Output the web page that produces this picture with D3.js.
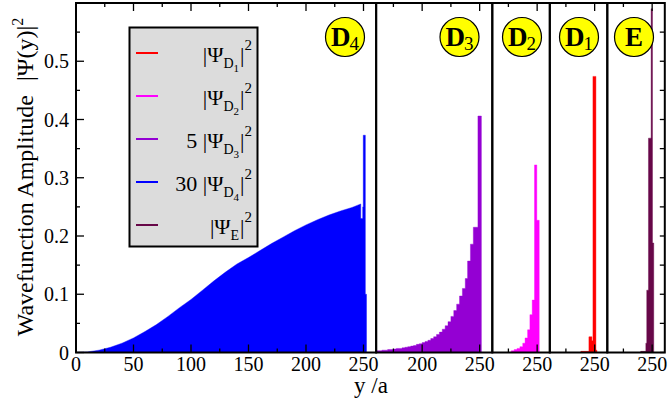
<!DOCTYPE html>
<html><head><meta charset="utf-8">
<script src="https://cdn.jsdelivr.net/npm/d3@7"></script>
<style>body{margin:0;background:#fff}svg{display:block}</style>
</head><body>
<script>
// ---------- data ----------
const panelLo = [0, 160, 211, 211, 211];
const panelHi = [261, 261, 261, 261, 261];
const badgeMain = ["D", "D", "D", "D", "E"];
const badgeSub = ["4", "3", "2", "1", ""];

const yMajor = [0, 0.1, 0.2, 0.3, 0.4, 0.5];
const yMajorLabels = ["0", "0.1", "0.2", "0.3", "0.4", "0.5"];
const yMinor = [0.05, 0.15, 0.25, 0.35, 0.45, 0.55];

// 30|Psi_D4|^2 (panel 1)
const blueX = [0,10,20,30,40,50,60,70,80,90,100,110,120,130,140,150,160,170,180,190,200,210,220,230,240,245,247.6,247.6,249.3,249.3,249.8,249.8,251.6,251.6,252.6,252.6];
const blueY = [0,0.001,0.004,0.009,0.016,0.025,0.036,0.048,0.062,0.077,0.091,0.107,0.123,0.138,0.152,0.163,0.175,0.187,0.198,0.209,0.219,0.228,0.236,0.243,0.249,0.253,0.255,0.23,0.23,0.25,0.25,0.373,0.373,0.10,0.10,0];
// 5|Psi_D3|^2 (panel 2), step starts
const violetX = [160,162.5,165,167.5,170,172.5,175,177.5,180,182.5,185,187.5,190,192.5,195,197.5,200,202.5,205,207.5,210,212.5,215,217.5,220,222.5,225,227.5,230,232.5,235,237.5,239.5,242,244.5,248.5,251.5];
const violetY = [0.003,0.003,0.004,0.004,0.005,0.005,0.006,0.007,0.007,0.008,0.009,0.010,0.011,0.012,0.014,0.015,0.017,0.019,0.021,0.024,0.027,0.031,0.035,0.040,0.046,0.053,0.062,0.072,0.083,0.097,0.110,0.127,0.157,0.186,0.215,0.406,0];
// |Psi_D2|^2 (panel 3)
const magentaX = [227.5,230,232.5,235,237.5,239.5,241.7,243.7,245.7,247.7,249.7,251.8];
const magentaY = [0.003,0.005,0.007,0.010,0.016,0.025,0.039,0.065,0.09,0.322,0.227,0];
// |Psi_D1|^2 (panel 4)
const redX = [238,245,247.6,248.5,251.1,252];
const redY = [0.002,0.027,0.02,0.474,0.004,0];
// |Psi_E|^2 (panel 5)
const maroonX = [240,244.5,245.3,246.8,249.1,250.3,251.4];
const maroonY = [0.002,0.016,0.107,0.368,0.59,0.188,0];

const legendPrefix = ["", "", "5 ", "30 ", ""];
const legendSub = ["D", "D", "D", "D", "E"];
const legendSubSub = ["1", "2", "3", "4", ""];

// ---------- styles ----------
const colors = {red:"#ff0000", magenta:"#ff00ff", violet:"#9400d3", blue:"#0000ff", maroon:"#670748"};
const legendColors = [colors.red, colors.magenta, colors.violet, colors.blue, colors.maroon];
const seriesByPanel = [
  {x: blueX, y: blueY, color: colors.blue, step: false},
  {x: violetX, y: violetY, color: colors.violet, step: true},
  {x: magentaX, y: magentaY, color: colors.magenta, step: true},
  {x: redX, y: redY, color: colors.red, step: true},
  {x: maroonX, y: maroonY, color: colors.maroon, step: true}
];
const FONT = "'Liberation Serif','Times New Roman',serif";

const W = 668, H = 410;
const left0 = 76, pxPerUnit = 1.15, plotTop = 3, plotBottom = 352.5;

const svg = d3.select("body").append("svg").attr("width", W).attr("height", H)
  .style("font-family", FONT);

const y = d3.scaleLinear().domain([0, 0.6]).range([plotBottom, plotTop]);

let cursor = left0;
const panels = panelLo.map((lo, i) => {
  const w = (panelHi[i] - lo) * pxPerUnit;
  const p = {lo, hi: panelHi[i], x0: cursor, x1: cursor + w};
  p.x = d3.scaleLinear().domain([lo, panelHi[i]]).range([cursor, cursor + w]);
  cursor += w;
  return p;
});

const defs = svg.append("defs");
panels.forEach((p, i) => {
  defs.append("clipPath").attr("id", "clip" + i).append("rect")
    .attr("x", p.x0).attr("y", plotTop).attr("width", p.x1 - p.x0).attr("height", plotBottom - plotTop);
});

// data marks
panels.forEach((p, i) => {
  const s = seriesByPanel[i];
  const pts = s.x.map((v, j) => [v, s.y[j]]);
  const area = d3.area().x(d => p.x(d[0])).y0(y(0)).y1(d => y(d[1]))
    .curve(s.step ? d3.curveStepAfter : d3.curveLinear);
  svg.append("path").attr("clip-path", `url(#clip${i})`)
    .attr("d", area(pts)).attr("fill", s.color)
    .attr("stroke", s.color).attr("stroke-width", 0.4);
});

// ticks
const tickG = svg.append("g").attr("stroke", "#000").attr("stroke-width", 1.3);
panels.forEach((p, i) => {
  const major = d3.range(Math.ceil(p.lo / 50) * 50, p.hi + 0.01, 50);
  const minor = d3.range(Math.ceil(p.lo / 25) * 25, p.hi + 0.01, 25).filter(v => v % 50 !== 0);
  major.forEach(v => {
    tickG.append("line").attr("x1", p.x(v)).attr("x2", p.x(v)).attr("y1", plotBottom).attr("y2", plotBottom - 8);
    tickG.append("line").attr("x1", p.x(v)).attr("x2", p.x(v)).attr("y1", plotTop).attr("y2", plotTop + 8);
  });
  minor.forEach(v => {
    tickG.append("line").attr("x1", p.x(v)).attr("x2", p.x(v)).attr("y1", plotBottom).attr("y2", plotBottom - 4);
    tickG.append("line").attr("x1", p.x(v)).attr("x2", p.x(v)).attr("y1", plotTop).attr("y2", plotTop + 4);
  });
  major.forEach(v => {
    svg.append("text").attr("x", p.x(v)).attr("y", 371).attr("text-anchor", "middle")
      .attr("font-size", 20).text(d3.format("d")(v));
  });
});
const pL = panels[0], pR = panels[panels.length - 1];
yMajor.forEach((v, j) => {
  tickG.append("line").attr("x1", pL.x0).attr("x2", pL.x0 + 8).attr("y1", y(v)).attr("y2", y(v));
  tickG.append("line").attr("x1", pR.x1).attr("x2", pR.x1 - 5).attr("y1", y(v)).attr("y2", y(v));
  svg.append("text").attr("x", 69).attr("y", y(v) + 7).attr("text-anchor", "end")
    .attr("font-size", 20).text(yMajorLabels[j]);
});
yMinor.forEach(v => {
  tickG.append("line").attr("x1", pL.x0).attr("x2", pL.x0 + 4).attr("y1", y(v)).attr("y2", y(v));
  tickG.append("line").attr("x1", pR.x1).attr("x2", pR.x1 - 5).attr("y1", y(v)).attr("y2", y(v));
});

// frames
panels.forEach(p => {
  svg.append("rect").attr("x", p.x0).attr("y", plotTop).attr("width", p.x1 - p.x0).attr("height", plotBottom - plotTop)
    .attr("fill", "none").attr("stroke", "#000").attr("stroke-width", 2);
});

// axis titles
const yt = svg.append("text").attr("transform", "translate(33,177) rotate(-90)")
  .attr("text-anchor", "middle").attr("font-size", 24);
yt.append("tspan").text("Wavefunction Amplitude");
yt.append("tspan").attr("dx", 14).text("|Ψ(y)|");
yt.append("tspan").attr("font-size", 16).attr("dy", -10).text("2");

svg.append("text").attr("x", 371).attr("y", 393).attr("text-anchor", "middle")
  .attr("font-size", 23).text("y /a");

// badges
const badgeCx = [345, 459.5, 522, 579, 634];
panels.forEach((p, i) => {
  const cx = badgeCx[i], cy = 37;
  svg.append("circle").attr("cx", cx).attr("cy", cy).attr("r", 19.5)
    .attr("fill", "#ffff00").attr("stroke", "#000").attr("stroke-width", 1.2);
  const t = svg.append("text").attr("x", cx).attr("y", cy + 9).attr("text-anchor", "middle");
  t.append("tspan").attr("font-size", 27).attr("font-weight", "bold").text(badgeMain[i]);
  if (badgeSub[i]) t.append("tspan").attr("font-size", 19).attr("dy", 4).attr("dx", -1).text(badgeSub[i]);
});

// legend
const lg = svg.append("g");
lg.append("rect").attr("x", 129.5).attr("y", 27.5).attr("width", 128).attr("height", 219)
  .attr("fill", "#dcdcdc").attr("stroke", "#000").attr("stroke-width", 2);
legendColors.forEach((c, i) => {
  const ly = 53 + i * 43;
  lg.append("line").attr("x1", 136).attr("x2", 158).attr("y1", ly).attr("y2", ly)
    .attr("stroke", c).attr("stroke-width", 2);
  const t = lg.append("text").attr("x", 252).attr("y", ly + 9).attr("text-anchor", "end").attr("font-size", 22);
  t.append("tspan").text(legendPrefix[i] + "|Ψ");
  t.append("tspan").attr("font-size", 14).attr("dy", 6).text(legendSub[i]);
  let back = 6;
  if (legendSubSub[i]) {
    t.append("tspan").attr("font-size", 11).attr("dy", 4).text(legendSubSub[i]);
    back = 10;
  }
  t.append("tspan").attr("font-size", 22).attr("dy", -back).attr("dx", 1).text("|");
  t.append("tspan").attr("font-size", 15).attr("dy", -12).text("2");
});
</script>
</body></html>
